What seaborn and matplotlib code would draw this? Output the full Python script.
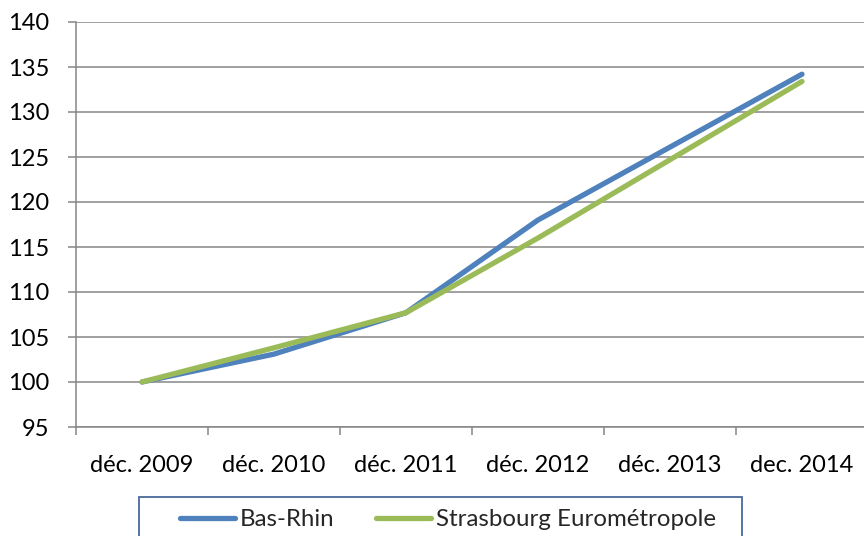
import matplotlib
matplotlib.use("Agg")
import matplotlib.pyplot as plt
from matplotlib.patches import Rectangle
from matplotlib.lines import Line2D
import seaborn as sns
import pandas as pd

categories = ["déc. 2009", "déc. 2010", "déc. 2011", "déc. 2012", "déc. 2013", "dec. 2014"]
bas_rhin = [100.0, 103.1, 107.7, 118.0, 126.1, 134.2]
strasbourg = [100.0, 103.8, 107.7, 116.0, 124.7, 133.4]
series_names = ["Bas-Rhin", "Strasbourg Eurométropole"]
y_ticks = [95, 100, 105, 110, 115, 120, 125, 130, 135, 140]

colors = {"Bas-Rhin": "#4f81bd", "Strasbourg Eurométropole": "#9bbb59"}

df = pd.DataFrame({
    "x": list(range(len(categories))) * 2,
    "value": bas_rhin + strasbourg,
    "series": [series_names[0]] * len(categories) + [series_names[1]] * len(categories),
})

sns.set_theme(style="white")
plt.rcParams["font.family"] = ["Lato", "DejaVu Sans"]

W, H = 864, 536
fig = plt.figure(figsize=(W / 100, H / 100), dpi=100)
left, right, top, bottom = 76, 868, 22, 427
ax = fig.add_axes([left / W, 1 - bottom / H, (right - left) / W, (bottom - top) / H])

grid_c = "#868686"
for yv in y_ticks:
    ax.axhline(yv, color=grid_c, lw=1.1, zorder=1)

sns.lineplot(data=df, x="x", y="value", hue="series", palette=colors, ax=ax,
             lw=3.8, legend=False, zorder=3, solid_capstyle="round")

ax.set_xlim(-0.5, len(categories) - 0.5)
ax.set_ylim(95, 140)
ax.set_yticks(y_ticks)
ax.set_yticklabels([str(v) for v in y_ticks])
ax.set_xticks(range(len(categories)))
ax.set_xticklabels(categories)
ax.set_xticks([i - 0.5 for i in range(len(categories) + 1)], minor=True)
ax.tick_params(axis="x", which="major", length=0, pad=20, labelsize=17, labelcolor="black")
ax.tick_params(axis="x", which="minor", length=6, width=1.1, color=grid_c, direction="out", bottom=True)
ax.tick_params(axis="y", which="major", length=6, width=1.1, color=grid_c, direction="out",
               pad=13, labelsize=17, labelcolor="black", left=True)
ax.set_xlabel("")
ax.set_ylabel("")
for s in ["top", "right"]:
    ax.spines[s].set_visible(False)
for s in ["left", "bottom"]:
    ax.spines[s].set_color(grid_c)
    ax.spines[s].set_linewidth(1.1)
ax.grid(False)

# legend box
bx0, bx1, by0 = 139, 742, 497
fig.patches.append(Rectangle((bx0 / W, 1 - 560 / H), (bx1 - bx0) / W, (560 - by0) / H,
                             transform=fig.transFigure, fill=False, edgecolor="#4a6a9c",
                             lw=1.3, figure=fig))
handles = [Line2D([], [], color=colors[n], lw=3.8, solid_capstyle="round") for n in series_names]
fig.legend(handles, series_names, loc="center left", bbox_to_anchor=(180 / W, 1 - 520 / H),
           ncol=2, frameon=False, fontsize=17.3, handlelength=2.3, handletextpad=0.2,
           columnspacing=1.7, borderpad=0, borderaxespad=0)

fig.savefig("out.png", dpi=100)
